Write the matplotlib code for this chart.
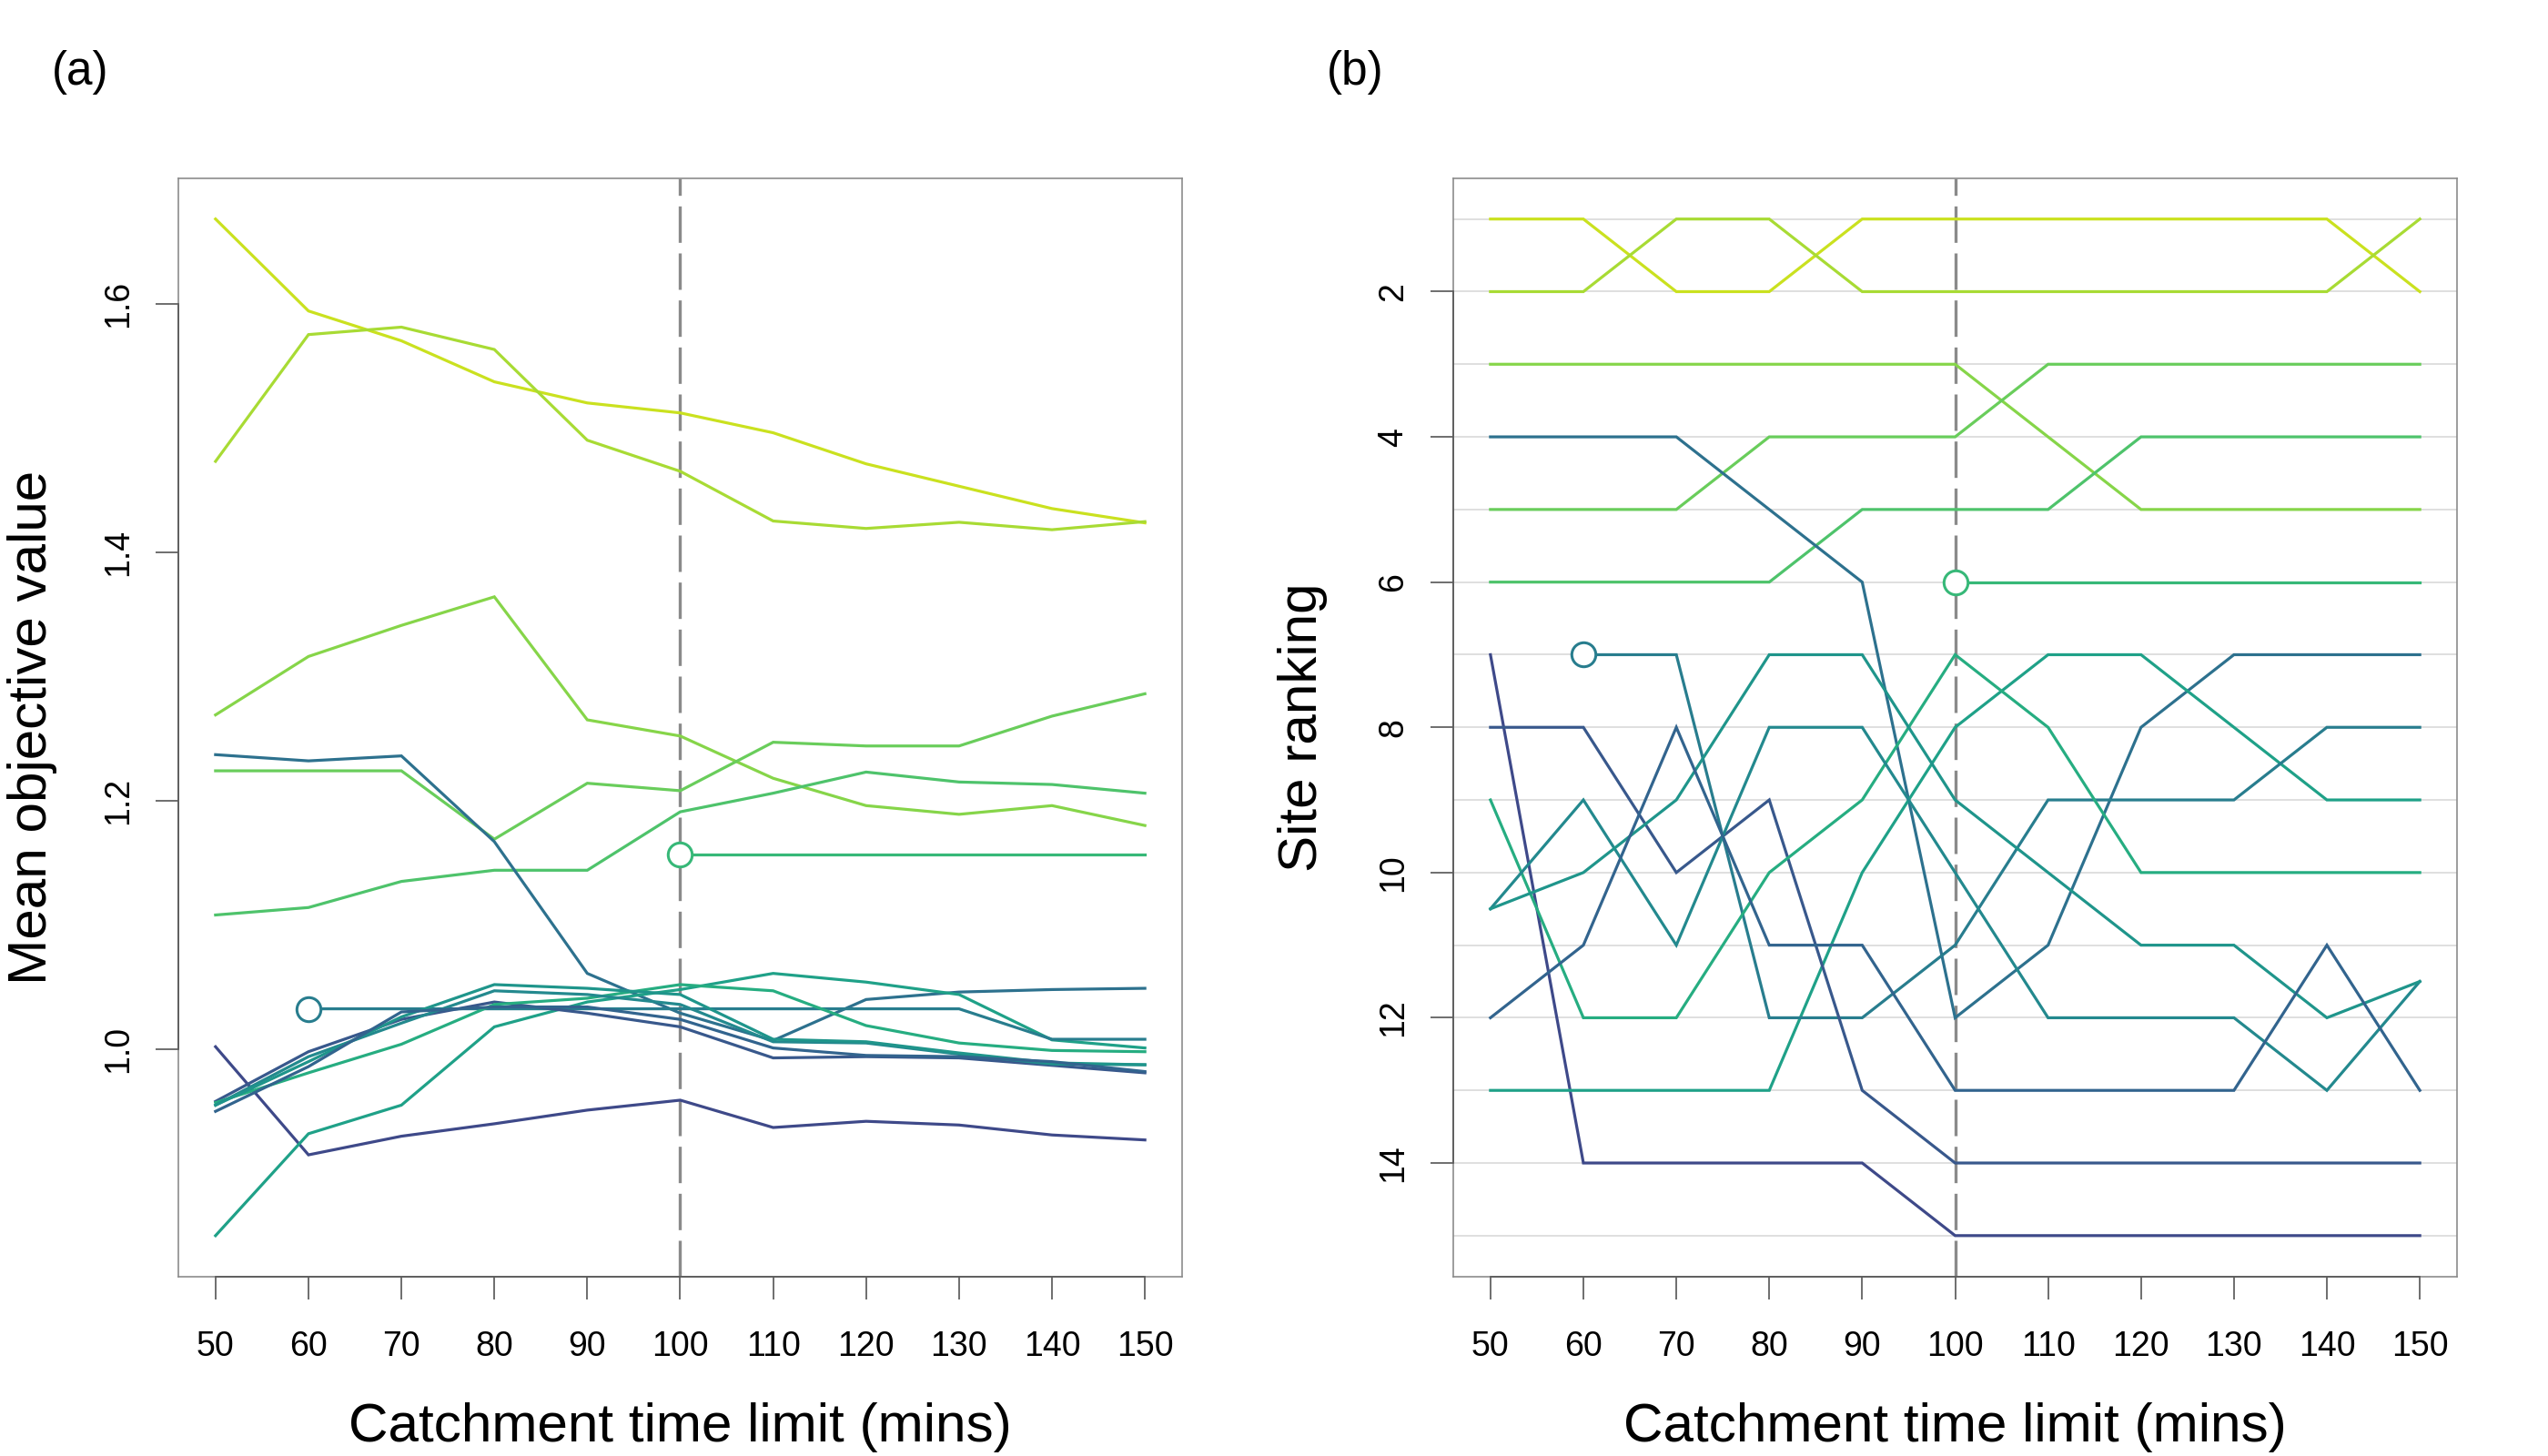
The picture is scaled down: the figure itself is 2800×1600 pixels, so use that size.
import numpy as np
import matplotlib
matplotlib.use("Agg")
import matplotlib.pyplot as plt

plt.rcParams['font.family'] = ['Liberation Sans', 'DejaVu Sans']

nan = np.nan
# ---------------- data ----------------
time_limits = [50, 60, 70, 80, 90, 100, 110, 120, 130, 140, 150]
x_tick_labels = ["50", "60", "70", "80", "90", "100", "110", "120", "130", "140", "150"]
chosen_limit = 100

# (a) mean objective value per site
obj_A = [1.668, 1.594, 1.570, 1.537, 1.520, 1.512, 1.496, 1.471, 1.453, 1.435, 1.4235]
obj_B = [1.473, 1.575, 1.581, 1.563, 1.490, 1.465, 1.425, 1.419, 1.424, 1.418, 1.4245]
obj_C = [1.269, 1.316, 1.341, 1.364, 1.265, 1.252, 1.218, 1.196, 1.189, 1.196, 1.180]
obj_D = [1.224, 1.224, 1.224, 1.169, 1.214, 1.208, 1.247, 1.244, 1.244, 1.268, 1.286]
obj_E = [1.108, 1.114, 1.135, 1.144, 1.144, 1.191, 1.206, 1.223, 1.215, 1.213, 1.206]
obj_F = [1.237, 1.232, 1.236, 1.167, 1.061, 1.029, 1.007, 1.040, 1.046, 1.048, 1.049]
obj_G = [nan, nan, nan, nan, nan, 1.157, 1.157, 1.157, 1.157, 1.157, 1.157]
obj_H = [1.002, 0.915, 0.930, 0.940, 0.951, 0.959, 0.937, 0.942, 0.939, 0.931, 0.927]
obj_I = [0.850, 0.932, 0.955, 1.018, 1.038, 1.048, 1.061, 1.054, 1.044, 1.0075, 1.001]
obj_J = [nan, 1.0325, 1.0325, 1.0325, 1.0325, 1.0325, 1.0325, 1.0325, 1.0325, 1.008, 1.008]
obj_K = [0.958, 0.998, 1.024, 1.038, 1.029, 1.018, 0.993, 0.994, 0.993, 0.987, 0.981]
obj_L = [0.957, 0.981, 1.004, 1.036, 1.041, 1.052, 1.047, 1.019, 1.005, 0.999, 0.998]
obj_M = [0.955, 0.994, 1.021, 1.047, 1.044, 1.036, 1.006, 1.005, 0.996, 0.988, 0.9875]
obj_N = [0.955, 0.990, 1.026, 1.052, 1.049, 1.044, 1.008, 1.006, 0.997, 0.989, 0.9875]
obj_O = [0.950, 0.986, 1.030, 1.034, 1.034, 1.024, 1.001, 0.995, 0.994, 0.990, 0.982]

# (b) site ranking per site
rank_A = [1, 1, 2, 2, 1, 1, 1, 1, 1, 1, 2]
rank_B = [2, 2, 1, 1, 2, 2, 2, 2, 2, 2, 1]
rank_C = [3, 3, 3, 3, 3, 3, 4, 5, 5, 5, 5]
rank_D = [5, 5, 5, 4, 4, 4, 3, 3, 3, 3, 3]
rank_E = [6, 6, 6, 6, 5, 5, 5, 4, 4, 4, 4]
rank_F = [4, 4, 4, 5, 6, 12, 11, 8, 7, 7, 7]
rank_G = [nan, nan, nan, nan, nan, 6, 6, 6, 6, 6, 6]
rank_H = [7, 14, 14, 14, 14, 15, 15, 15, 15, 15, 15]
rank_I = [13, 13, 13, 13, 10, 8, 7, 7, 8, 9, 9]
rank_J = [nan, 7, 7, 12, 12, 11, 9, 9, 9, 8, 8]
rank_K = [8, 8, 10, 9, 13, 14, 14, 14, 14, 14, 14]
rank_L = [9, 12, 12, 10, 9, 7, 8, 10, 10, 10, 10]
rank_M = [10.5, 9, 11, 8, 8, 10, 12, 12, 12, 13, 11.5]
rank_N = [10.5, 10, 9, 7, 7, 9, 10, 11, 11, 12, 11.5]
rank_O = [12, 11, 8, 11, 11, 13, 13, 13, 13, 11, 13]

obj_series = [obj_A, obj_B, obj_C, obj_D, obj_E, obj_F, obj_G, obj_H,
              obj_I, obj_J, obj_K, obj_L, obj_M, obj_N, obj_O]
rank_series = [rank_A, rank_B, rank_C, rank_D, rank_E, rank_F, rank_G, rank_H,
               rank_I, rank_J, rank_K, rank_L, rank_M, rank_N, rank_O]

y_ticks_a = [1.0, 1.2, 1.4, 1.6]
y_tick_labels_a = ["1.0", "1.2", "1.4", "1.6"]
y_ticks_b = [2, 4, 6, 8, 10, 12, 14]
y_tick_labels_b = ["2", "4", "6", "8", "10", "12", "14"]
n_ranks = 15

# ---------------- style ----------------
W, H = 2800, 1600
fig = plt.figure(figsize=(14, 8), dpi=200)
ax_b_bottom = 1 - 1402.5 / H
ax_h = 1206.5 / H
ax_w = 1103 / W
ax1 = fig.add_axes([196 / W, ax_b_bottom, ax_w, ax_h])
ax2 = fig.add_axes([1597 / W, ax_b_bottom, ax_w, ax_h])

idx_chosen = time_limits.index(chosen_limit)
cmap = matplotlib.colormaps['viridis']
cvals = np.linspace(0.92, 0.22, n_ranks)


def colour_for(ranks):
    r = ranks[idx_chosen]
    return cmap(cvals[int(round(r)) - 1])


LW = 1.15
tick_col = '#555555'
box_col = '#8c8c8c'
dash_col = '#8a8a8a'

x = np.array(time_limits, dtype=float)

for ax in (ax1, ax2):
    ax.axvline(chosen_limit, color=dash_col, lw=1.2, dashes=(12, 3.5), zorder=1)

for r in range(1, n_ranks + 1):
    ax2.axhline(r, color='#d9d9d9', lw=0.6, zorder=0)

for obj, rk in zip(obj_series, rank_series):
    col = colour_for(rk)
    o = np.array(obj, dtype=float)
    rr = np.array(rk, dtype=float)
    ax1.plot(x, o, color=col, lw=LW, solid_joinstyle='miter', zorder=2)
    ax2.plot(x, rr, color=col, lw=LW, solid_joinstyle='miter', zorder=2)
    if np.isnan(o[0]):
        first = int(np.argmax(~np.isnan(o)))
        ax1.plot(x[first], o[first], 'o', ms=9.5, mfc='white', mec=col, mew=1.1, zorder=3)
        ax2.plot(x[first], rr[first], 'o', ms=9.5, mfc='white', mec=col, mew=1.1, zorder=3)

# axes limits (R style 4% expansion)
ax1.set_xlim(46, 154)
ax2.set_xlim(46, 154)
ax1.set_ylim(0.8173, 1.7007)
ax2.set_ylim(15.56, 0.44)

for ax in (ax1, ax2):
    ax.set_xticks(time_limits)
    ax.set_xticklabels(x_tick_labels)
    for sp in ax.spines.values():
        sp.set_color(box_col)
        sp.set_linewidth(0.6)
    ax.tick_params(axis='both', direction='out', length=9, width=0.6,
                   color=tick_col, labelsize=13.5, labelcolor='black')
    ax.tick_params(axis='x', pad=12.5)
    ax.tick_params(axis='y', pad=8.3)
    # R-style axis line spanning first..last tick
    ax.plot([time_limits[0], time_limits[-1]], [0, 0], color=tick_col, lw=0.6,
            transform=ax.get_xaxis_transform(), clip_on=False, zorder=5)

ax1.set_yticks(y_ticks_a)
ax1.set_yticklabels(y_tick_labels_a)
ax2.set_yticks(y_ticks_b)
ax2.set_yticklabels(y_tick_labels_b)
ax1.plot([0, 0], [y_ticks_a[0], y_ticks_a[-1]], color=tick_col, lw=0.6,
         transform=ax1.get_yaxis_transform(), clip_on=False, zorder=5)
ax2.plot([0, 0], [y_ticks_b[0], y_ticks_b[-1]], color=tick_col, lw=0.6,
         transform=ax2.get_yaxis_transform(), clip_on=False, zorder=5)
for ax in (ax1, ax2):
    for lab in ax.get_yticklabels():
        lab.set_rotation(90)
        lab.set_va('center')

ax1.set_xlabel("Catchment time limit (mins)", fontsize=21.7, labelpad=15.5)
ax2.set_xlabel("Catchment time limit (mins)", fontsize=21.7, labelpad=15.5)
ax1.set_ylabel("Mean objective value", fontsize=21.7, labelpad=17.5)
ax2.set_ylabel("Site ranking", fontsize=21.7, labelpad=19.5)

fig.text(88 / W, 1 - 79 / H, "(a)", fontsize=18.5, ha='center', va='center')
fig.text(1489 / W, 1 - 79 / H, "(b)", fontsize=18.5, ha='center', va='center')

fig.savefig("out.png", dpi=200, facecolor='white')
